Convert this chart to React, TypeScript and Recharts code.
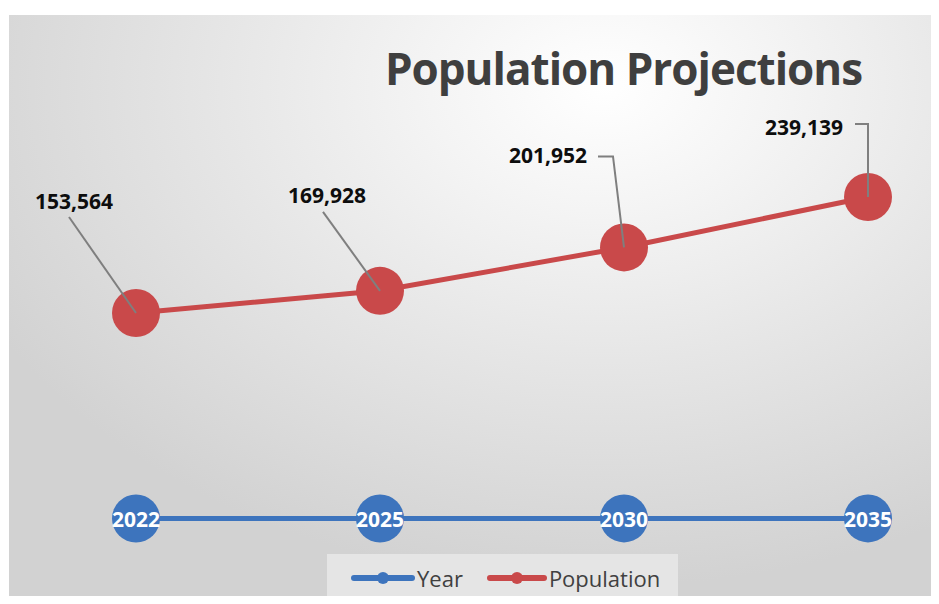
import React from 'react';
import { LineChart, Line, XAxis, YAxis, LabelList } from 'recharts';

const categories = ['2022', '2025', '2030', '2035'];
const yearValues = [2022, 2025, 2030, 2035];
const populationValues = [153564, 169928, 201952, 239139];

const data = categories.map((c, i) => ({
  cat: c,
  Year: yearValues[i],
  Population: populationValues[i],
}));

// label layout (relative to point): text centre and leader path points
const labelLayout = [
  { tx: -62, ty: -112, path: [[-67, -96], [0, 0]] },
  { tx: -53, ty: -96, path: [[-57, -79], [0, 0]] },
  { tx: -76, ty: -92, path: [[-26, -91], [-11, -91], [0, 0]] },
  { tx: -64, ty: -70, path: [[-13, -73], [0, -73], [0, 0]] },
];

const BLUE = '#3d74bd';
const RED = '#c9494a';
const FONT = '"Open Sans", sans-serif';

const PopLabel = (props: any) => {
  const { x, y, value, index } = props;
  const l = labelLayout[index];
  if (!l || x == null || y == null) return null;
  const d = l.path.map((p, i) => `${i === 0 ? 'M' : 'L'}${x + p[0]},${y + p[1]}`).join(' ');
  return (
    <g>
      <path d={d} stroke="#7f7f7f" strokeWidth={2} fill="none" />
      <text
        x={x + l.tx}
        y={y + l.ty}
        textAnchor="middle"
        dominantBaseline="central"
        fontFamily={FONT}
        fontWeight={700}
        fontSize={21}
        fill="#0d0d0d"
      >
        {Number(value).toLocaleString('en-US')}
      </text>
    </g>
  );
};

const YearLabel = (props: any) => {
  const { x, y, value } = props;
  if (x == null || y == null) return null;
  return (
    <text
      x={x}
      y={y + 1}
      textAnchor="middle"
      dominantBaseline="central"
      fontFamily={FONT}
      fontWeight={700}
      fontSize={21}
      fill="#ffffff"
    >
      {String(value)}
    </text>
  );
};

const LegendItem = ({ color, label, lineW }: { color: string; label: string; lineW: number }) => (
  <div style={{ display: 'flex', alignItems: 'center' }}>
    <svg width={lineW} height={16} style={{ display: 'block' }}>
      <line x1={3} y1={8} x2={lineW - 3} y2={8} stroke={color} strokeWidth={6} strokeLinecap="round" />
      <circle cx={lineW / 2} cy={8} r={6} fill={color} />
    </svg>
    <span style={{ fontFamily: FONT, fontSize: 22, color: '#404040', marginLeft: 2 }}>{label}</span>
  </div>
);

export default function App() {
  return (
    <div style={{ position: 'relative', width: 939, height: 604, margin: -8, overflow: 'hidden', background: '#ffffff' }}>
      <div
        style={{
          position: 'absolute',
          left: 9,
          top: 15,
          width: 930,
          height: 589,
          background: 'radial-gradient(ellipse 75% 85% at 64% 12%, #ffffff 0%, #f4f4f4 25%, #e6e6e6 55%, #d2d2d2 100%)',
        }}
      />
      <div
        style={{
          position: 'absolute',
          left: 0,
          top: 40,
          width: 939,
          textAlign: 'center',
          paddingLeft: 308,
          boxSizing: 'border-box',
          fontFamily: FONT,
          fontWeight: 700,
          fontSize: 44,
          letterSpacing: -1,
          color: '#3f3f3f',
          lineHeight: '56px',
        }}
      >
        Population Projections
      </div>
      <div style={{ position: 'absolute', left: 0, top: 0 }}>
        <LineChart
          width={939}
          height={604}
          data={data}
          margin={{ top: 114.5, right: 71, bottom: 82.8, left: 136 }}
        >
          <XAxis dataKey="cat" hide />
          <YAxis hide domain={[0, 300000]} />
          <Line
            dataKey="Year"
            stroke={BLUE}
            strokeWidth={5}
            dot={{ r: 24, fill: BLUE, stroke: 'none' }}
            activeDot={false}
            isAnimationActive={false}
          >
            <LabelList dataKey="Year" content={YearLabel} />
          </Line>
          <Line
            dataKey="Population"
            stroke={RED}
            strokeWidth={5}
            dot={{ r: 24, fill: RED, stroke: 'none' }}
            activeDot={false}
            isAnimationActive={false}
          >
            <LabelList dataKey="Population" content={PopLabel} />
          </Line>
        </LineChart>
      </div>
      <div
        style={{
          position: 'absolute',
          left: 327,
          top: 554,
          width: 351,
          height: 48,
          background: '#e5e5e5',
          display: 'flex',
          alignItems: 'center',
          paddingLeft: 24,
          boxSizing: 'border-box',
          gap: 24,
        }}
      >
        <LegendItem color={BLUE} label="Year" lineW={64} />
        <LegendItem color={RED} label="Population" lineW={60} />
      </div>
    </div>
  );
}
